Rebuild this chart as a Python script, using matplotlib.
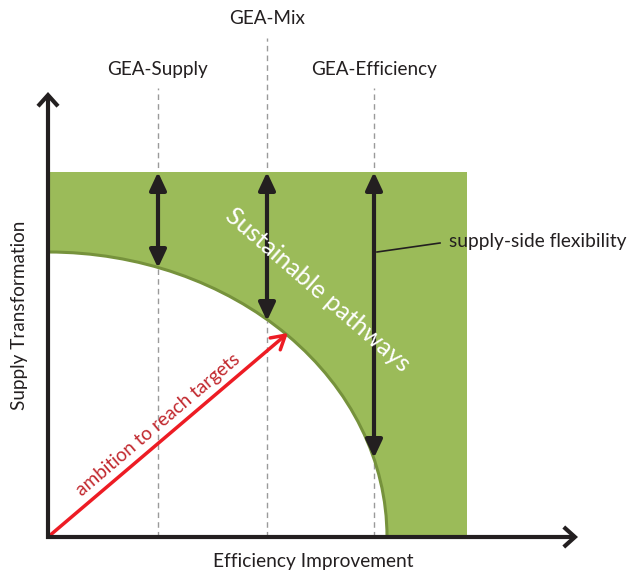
import matplotlib
matplotlib.use("Agg")
import matplotlib.pyplot as plt
from matplotlib.patches import Rectangle, Ellipse, Arc, FancyArrowPatch

plt.rcParams['font.family'] = ['Lato', 'DejaVu Sans']

# ---- data (diagram units, origin at axes corner) ----
region_right = 419          # extent of sustainable region (efficiency)
region_top = 365            # extent of sustainable region (supply)
frontier_x = 339            # frontier intercept on efficiency axis
frontier_y = 285            # frontier intercept on supply axis
pathway_names = ["GEA-Supply", "GEA-Mix", "GEA-Efficiency"]
pathway_x = [110, 219, 326]
pathway_low = [269, 216, 79]     # where each pathway meets the frontier
label_y = [468, 518, 468]
dash_top = [449, 499, 449]
ambition_end = [240, 204]
flex_text = "supply-side flexibility"
x_axis_end = 530
y_axis_end = 445

INK = "#231f20"
GREEN = "#9bbb59"
GREEN_EDGE = "#76923c"

fig = plt.figure(figsize=(6.3, 5.73), dpi=100)
ax = fig.add_axes([0, 0, 1, 1])
ax.set_xlim(-48, 582)
ax.set_ylim(-36, 537)
ax.axis("off")

# dashed guide lines
for x, top in zip(pathway_x, dash_top):
    ax.plot([x, x], [0, top], color="#9a9a9a", lw=1.0, dashes=(4, 3), zorder=1)

# sustainable region
rect = Rectangle((0, 0), region_right, region_top, facecolor=GREEN, edgecolor="none", zorder=2)
ax.add_patch(rect)
ell = Ellipse((0, 0), 2 * frontier_x, 2 * frontier_y, facecolor="white", edgecolor="none", zorder=3)
ax.add_patch(ell)
ell.set_clip_path(rect)
arc = Arc((0, 0), 2 * frontier_x, 2 * frontier_y, theta1=0, theta2=90,
          color=GREEN_EDGE, lw=2.2, zorder=4)
ax.add_patch(arc)

# redraw dashed lines over white part
for x, top, low in zip(pathway_x, dash_top, pathway_low):
    ax.plot([x, x], [0, low], color="#9a9a9a", lw=1.0, dashes=(4, 3), zorder=3.5)

# pathway double arrows
for x, low in zip(pathway_x, pathway_low):
    arr = FancyArrowPatch((x, low), (x, region_top),
                          arrowstyle="<|-|>,head_length=0.9,head_width=0.42",
                          mutation_scale=12, lw=3, color=INK,
                          shrinkA=0, shrinkB=0, zorder=6)
    ax.add_patch(arr)

# pathway labels
for name, x, y in zip(pathway_names, pathway_x, label_y):
    ax.text(x, y, name, ha="center", va="center", fontsize=13.6, color=INK)

# ambition arrow
amb = FancyArrowPatch((0, 0), tuple(ambition_end),
                      arrowstyle="->,head_length=0.6,head_width=0.35",
                      mutation_scale=16, lw=2.5, color="#ed1c24",
                      shrinkA=0, shrinkB=0, zorder=7)
ax.add_patch(amb)
ax.text(110, 112, "ambition to reach targets", rotation=40.4, rotation_mode="anchor",
        ha="center", va="center", fontsize=13.7, color="#c1272d", zorder=8)

# sustainable pathways label
ax.text(270, 247, "Sustainable pathways", rotation=-41, rotation_mode="anchor",
        ha="center", va="center", fontsize=18, fontweight="normal", color="white", zorder=8)

# supply-side flexibility
ax.plot([329, 392], [285, 294], color=INK, lw=1.2, zorder=7)
ax.text(401, 295, flex_text, ha="left", va="center", fontsize=13.8, color=INK, zorder=8)

# axes arrows
xa = FancyArrowPatch((-2, 0), (x_axis_end, 0),
                     arrowstyle="->,head_length=0.5,head_width=0.45",
                     mutation_scale=16, lw=3, color=INK, shrinkA=0, shrinkB=0,
                     zorder=9, capstyle="butt", joinstyle="miter")
ya = FancyArrowPatch((0, -2), (0, y_axis_end),
                     arrowstyle="->,head_length=0.5,head_width=0.45",
                     mutation_scale=16, lw=3, color=INK, shrinkA=0, shrinkB=0,
                     zorder=9, capstyle="butt", joinstyle="miter")
ax.add_patch(xa)
ax.add_patch(ya)

ax.text(265, -25, "Efficiency Improvement", ha="center", va="center", fontsize=13.8, color=INK)
ax.text(-28, 222, "Supply Transformation", ha="center", va="center", rotation=90,
        fontsize=13.6, color=INK)

fig.savefig("out.png", dpi=100)
